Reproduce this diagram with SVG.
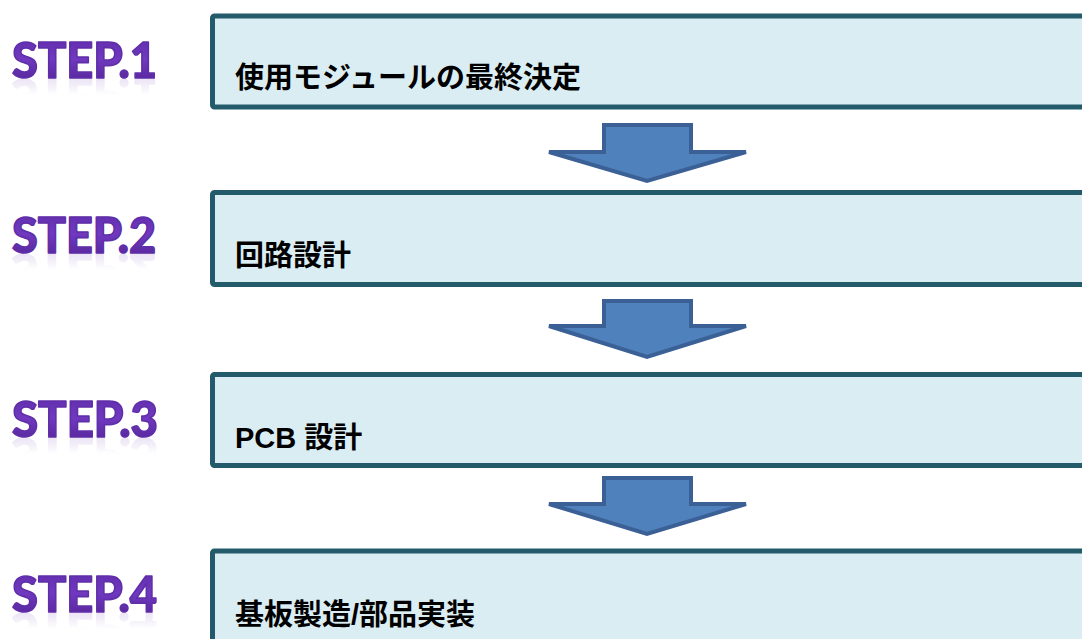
<svg xmlns="http://www.w3.org/2000/svg" width="1082" height="639" viewBox="0 0 1082 639">
<defs>
<linearGradient id="pg" x1="0" y1="0" x2="0" y2="1">
<stop offset="0" stop-color="#5C2BA6"/>
<stop offset="0.5" stop-color="#7039C0"/>
<stop offset="1" stop-color="#4F2290"/>
</linearGradient>
<linearGradient id="rg" x1="0" y1="0" x2="0" y2="1">
<stop offset="0" stop-color="#fff" stop-opacity="0.5"/>
<stop offset="0.45" stop-color="#fff" stop-opacity="0"/>
</linearGradient>
<mask id="rm" maskContentUnits="objectBoundingBox">
<rect x="0" y="0" width="1" height="1" fill="url(#rg)"/>
</mask>
<style>
.box{fill:#DAEDF3;stroke:#235B6A;stroke-width:5}
.lbl{font-family:"Liberation Sans","Noto Sans CJK JP",sans-serif;font-weight:700;font-size:29px;fill:#000}
.step{font-family:Lato,"Liberation Sans",sans-serif;font-weight:900;font-size:49px;fill:url(#pg);stroke:#5F2EA8;stroke-width:1.6;stroke-linejoin:round}
.refl{font-family:Lato,"Liberation Sans",sans-serif;font-weight:900;font-size:49px;fill:#8E6CC8;stroke:#8E6CC8;stroke-width:1.6}
.arr{fill:#4F81BD;stroke:#3B6096;stroke-width:4;stroke-linejoin:miter}
</style>
</defs>
<rect width="1082" height="639" fill="#fff"/>

<g id="step1">
<g mask="url(#rm)" opacity="0.6"><text class="refl" transform="translate(0,157) scale(1,-1)" x="12" y="78" textLength="145" lengthAdjust="spacingAndGlyphs">STEP.1</text></g>
<text class="step" x="12" y="78" textLength="145" lengthAdjust="spacingAndGlyphs">STEP.1</text>
<rect class="box" x="212.5" y="16" width="880" height="91" rx="2"/>
<text class="lbl" x="235" y="88">使用モジュールの最終決定</text>
</g>

<g id="step2">
<g mask="url(#rm)" opacity="0.6"><text class="refl" transform="translate(0,507) scale(1,-1)" x="12" y="253" textLength="144" lengthAdjust="spacingAndGlyphs">STEP.2</text></g>
<text class="step" x="12" y="253" textLength="144" lengthAdjust="spacingAndGlyphs">STEP.2</text>
<rect class="box" x="212.5" y="192.5" width="880" height="92" rx="2"/>
<text class="lbl" x="235" y="266">回路設計</text>
</g>

<g id="step3">
<g mask="url(#rm)" opacity="0.6"><text class="refl" transform="translate(0,875) scale(1,-1)" x="12" y="437" textLength="146" lengthAdjust="spacingAndGlyphs">STEP.3</text></g>
<text class="step" x="12" y="437" textLength="146" lengthAdjust="spacingAndGlyphs">STEP.3</text>
<rect class="box" x="212.5" y="374.5" width="880" height="91" rx="2"/>
<text class="lbl" x="235" y="448">PCB 設計</text>
</g>

<g id="step4">
<g mask="url(#rm)" opacity="0.6"><text class="refl" transform="translate(0,1225) scale(1,-1)" x="12" y="612" textLength="145" lengthAdjust="spacingAndGlyphs">STEP.4</text></g>
<text class="step" x="12" y="612" textLength="145" lengthAdjust="spacingAndGlyphs">STEP.4</text>
<rect class="box" x="212.5" y="551" width="880" height="100" rx="2"/>
<text class="lbl" x="235" y="625">基板製造/部品実装</text>
</g>

<g id="connectors">
<polygon class="arr" points="604,125 691,125 691,152 746,152 647,181 549,152 604,152"/>
<polygon class="arr" points="604,301 691,301 691,326 746,326 647,357 549,326 604,326"/>
<polygon class="arr" points="604,478 691,478 691,504 746,504 647,534 549,504 604,504"/>
</g>
</svg>
